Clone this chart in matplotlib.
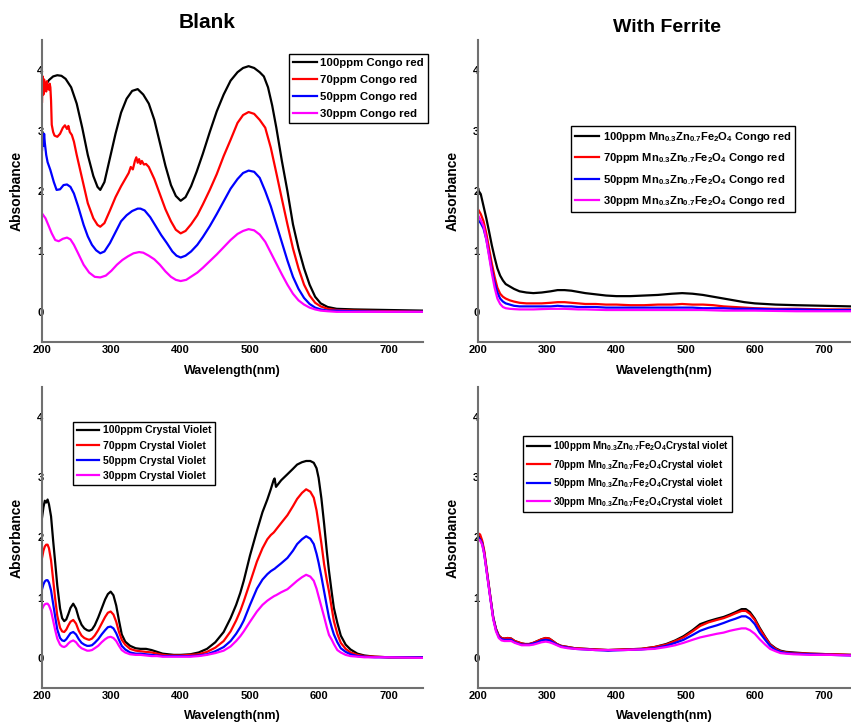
import matplotlib
matplotlib.use("Agg")
import matplotlib.pyplot as plt

plt.rcParams['font.family'] = ['Liberation Sans', 'DejaVu Sans']
plt.rcParams['font.weight'] = 'bold'
plt.rcParams['mathtext.fontset'] = 'custom'
plt.rcParams['mathtext.rm'] = 'Liberation Sans:bold'
plt.rcParams['mathtext.bf'] = 'Liberation Sans:bold'
plt.rcParams['mathtext.it'] = 'Liberation Sans:bold'
plt.rcParams['mathtext.default'] = 'bf'

colors = ['black', 'red', 'blue', 'magenta']

# ---------------- Congo red, blank ----------------
cr_wl_black = [200, 205, 210, 216, 222, 228, 234, 242, 250, 258, 266, 274, 280, 284, 290, 298, 306, 314, 322, 330,
               338, 346, 354, 362, 370, 378, 386, 393, 400, 407, 415, 423, 432, 442, 452, 462, 472, 482, 490, 498,
               506, 514, 520, 526, 532, 538, 546, 554, 562, 570, 578, 586, 594, 602, 612, 625, 650, 700, 750]
cr_black = [3.59, 3.75, 3.84, 3.9, 3.92, 3.91, 3.86, 3.72, 3.45, 3.05, 2.6, 2.25, 2.07, 2.02, 2.15, 2.55, 2.95, 3.3,
            3.53, 3.66, 3.69, 3.6, 3.45, 3.18, 2.8, 2.42, 2.1, 1.92, 1.84, 1.9, 2.08, 2.32, 2.62, 2.98, 3.32, 3.6,
            3.83, 3.97, 4.04, 4.07, 4.04, 3.97, 3.9, 3.72, 3.42, 3.05, 2.5, 2.0, 1.45, 1.05, 0.72, 0.45, 0.25, 0.14,
            0.08, 0.05, 0.04, 0.03, 0.02]

cr_wl_red = [200, 201, 202, 203, 204, 205, 206, 207, 208, 209, 210, 211, 212, 213, 214, 216, 218, 222, 226, 230,
             233, 236, 238, 240, 243, 246, 250, 258, 266, 274, 280, 284, 290, 298, 306, 314, 320, 325, 328, 331,
             334, 336, 338, 340, 342, 344, 347, 350, 354, 362, 370, 378, 386, 393, 400, 407, 415, 424, 432, 442,
             452, 462, 472, 482, 490, 498, 506, 514, 522, 530, 538, 546, 554, 562, 570, 578, 586, 594, 602, 612,
             625, 650, 700, 750]
cr_red = [3.48, 3.9, 3.6, 3.85, 3.7, 3.78, 3.65, 3.82, 3.7, 3.75, 3.68, 3.78, 3.72, 3.5, 3.1, 2.98, 2.92, 2.9, 2.95,
          3.05, 3.09, 3.03, 3.08, 2.98, 2.93, 2.82, 2.6, 2.2, 1.8, 1.55, 1.44, 1.41, 1.47, 1.68, 1.9, 2.08, 2.2, 2.3,
          2.4, 2.36, 2.5, 2.56, 2.47, 2.53, 2.45, 2.5, 2.44, 2.45, 2.4, 2.2, 1.95, 1.7, 1.5, 1.36, 1.30, 1.34, 1.45,
          1.6, 1.78, 2.02, 2.28, 2.58, 2.85, 3.13, 3.26, 3.31, 3.28, 3.18, 3.05, 2.72, 2.3, 1.87, 1.45, 1.05, 0.72,
          0.45, 0.27, 0.15, 0.09, 0.05, 0.03, 0.02, 0.01, 0.0]

cr_wl_blue = [200, 201, 202, 203, 204, 206, 208, 212, 217, 221, 226, 231, 236, 241, 246, 252, 260, 266, 272, 278,
              284, 290, 298, 306, 314, 322, 330, 338, 342, 348, 356, 364, 372, 380, 388, 394, 400, 407, 415, 424,
              432, 442, 452, 462, 472, 482, 490, 498, 506, 514, 522, 530, 538, 546, 554, 562, 570, 578, 586, 594,
              602, 612, 625, 650, 700, 750]
cr_blue = [2.68, 2.9, 2.75, 2.95, 2.8, 2.6, 2.48, 2.35, 2.15, 2.02, 2.03, 2.1, 2.11, 2.07, 1.96, 1.75, 1.44, 1.25,
           1.11, 1.02, 0.97, 1.0, 1.14, 1.32, 1.5, 1.6, 1.67, 1.71, 1.71, 1.68, 1.57, 1.42, 1.27, 1.14, 1.0, 0.93,
           0.90, 0.93, 1.0, 1.11, 1.24, 1.42, 1.62, 1.83, 2.04, 2.2, 2.3, 2.34, 2.32, 2.22, 2.0, 1.75, 1.45, 1.15,
           0.85, 0.58, 0.38, 0.23, 0.13, 0.07, 0.04, 0.02, 0.02, 0.01, 0.0, 0.0]

cr_wl_mag = [200, 205, 209, 214, 219, 224, 230, 236, 241, 246, 252, 260, 268, 276, 284, 292, 300, 308, 316, 324,
             332, 340, 346, 354, 362, 370, 378, 386, 393, 400, 408, 416, 424, 432, 442, 452, 462, 472, 482, 490,
             498, 506, 514, 522, 530, 538, 546, 554, 562, 570, 578, 586, 594, 602, 612, 625, 650, 700, 750]
cr_mag = [1.63, 1.55, 1.44, 1.3, 1.19, 1.17, 1.21, 1.23, 1.2, 1.11, 0.97, 0.78, 0.65, 0.58, 0.57, 0.6, 0.68, 0.78,
          0.86, 0.92, 0.97, 0.99, 0.98, 0.93, 0.87, 0.78, 0.67, 0.58, 0.53, 0.51, 0.53, 0.59, 0.65, 0.73, 0.84, 0.95,
          1.07, 1.19, 1.29, 1.34, 1.37, 1.35, 1.28, 1.16, 0.98, 0.8, 0.62, 0.45, 0.3, 0.19, 0.12, 0.07, 0.04, 0.02,
          0.01, 0.0, 0.0, 0.0, 0.0]

cr_labels = ['100ppm Congo red', '70ppm Congo red', '50ppm Congo red', '30ppm Congo red']

# ---------------- Congo red, with ferrite ----------------
crf_wl = [200, 204, 208, 212, 216, 220, 224, 228, 232, 236, 240, 246, 252, 260, 270, 280, 292, 305, 315, 325, 335,
          345, 355, 370, 385, 400, 420, 440, 460, 480, 495, 510, 525, 540, 555, 570, 585, 600, 630, 660, 700, 739]
crf_black = [2.02, 1.95, 1.75, 1.55, 1.33, 1.1, 0.9, 0.72, 0.6, 0.52, 0.46, 0.42, 0.38, 0.34, 0.32, 0.31, 0.32, 0.34,
             0.36, 0.36, 0.35, 0.33, 0.31, 0.29, 0.27, 0.26, 0.26, 0.27, 0.28, 0.30, 0.31, 0.30, 0.28, 0.25, 0.22,
             0.19, 0.16, 0.14, 0.12, 0.11, 0.10, 0.09]
crf_red = [1.70, 1.62, 1.5, 1.3, 1.05, 0.8, 0.58, 0.4, 0.3, 0.25, 0.22, 0.19, 0.17, 0.15, 0.14, 0.14, 0.14, 0.15,
           0.16, 0.16, 0.15, 0.14, 0.13, 0.13, 0.12, 0.12, 0.11, 0.11, 0.12, 0.12, 0.13, 0.12, 0.12, 0.11, 0.09,
           0.08, 0.07, 0.06, 0.05, 0.05, 0.04, 0.04]
crf_blue = [1.52, 1.47, 1.38, 1.2, 0.95, 0.69, 0.48, 0.32, 0.22, 0.17, 0.14, 0.12, 0.1, 0.09, 0.09, 0.09, 0.09, 0.09,
            0.1, 0.09, 0.09, 0.08, 0.08, 0.08, 0.07, 0.07, 0.07, 0.07, 0.07, 0.07, 0.07, 0.07, 0.06, 0.06, 0.06,
            0.05, 0.05, 0.05, 0.04, 0.04, 0.03, 0.03]
crf_mag = [1.60, 1.52, 1.42, 1.2, 0.92, 0.64, 0.4, 0.22, 0.13, 0.08, 0.06, 0.05, 0.045, 0.04, 0.04, 0.04, 0.045,
           0.05, 0.05, 0.05, 0.045, 0.04, 0.04, 0.035, 0.03, 0.03, 0.03, 0.03, 0.03, 0.03, 0.03, 0.03, 0.03, 0.025,
           0.02, 0.02, 0.02, 0.02, 0.015, 0.01, 0.01, 0.01]

crf_labels = [r'100ppm Mn$_{0.3}$Zn$_{0.7}$Fe$_2$O$_4$ Congo red',
              r'70ppm Mn$_{0.3}$Zn$_{0.7}$Fe$_2$O$_4$ Congo red',
              r'50ppm Mn$_{0.3}$Zn$_{0.7}$Fe$_2$O$_4$ Congo red',
              r'30ppm Mn$_{0.3}$Zn$_{0.7}$Fe$_2$O$_4$ Congo red']

# ---------------- Crystal violet, blank ----------------
cv_wl = [200, 202, 204, 206, 208, 210, 213, 216, 219, 222, 226, 229, 232, 235, 238, 241, 245, 249, 253, 257, 261,
         265, 268, 272, 276, 281, 286, 291, 295, 299, 303, 307, 311, 315, 320, 327, 335, 342, 350, 358, 366, 374,
         382, 390, 400, 414, 426, 438, 450, 462, 472, 480, 486, 491, 500, 510, 518, 525, 530, 534, 535.5, 537.5,
         545, 554, 562, 568, 575, 581, 587, 592, 596, 599, 603, 607, 611, 614, 618, 621, 626, 631, 638, 645, 655,
         665, 680, 700, 750]
cv_black = [2.33, 2.5, 2.61, 2.58, 2.63, 2.55, 2.35, 1.95, 1.58, 1.2, 0.82, 0.66, 0.61, 0.64, 0.73, 0.83, 0.90, 0.82,
            0.66, 0.55, 0.49, 0.46, 0.45, 0.47, 0.54, 0.67, 0.82, 0.97, 1.06, 1.10, 1.04, 0.87, 0.62, 0.39, 0.27,
            0.2, 0.16, 0.15, 0.15, 0.13, 0.1, 0.07, 0.06, 0.05, 0.05, 0.06, 0.09, 0.15, 0.26, 0.43, 0.66, 0.88,
            1.08, 1.28, 1.7, 2.11, 2.42, 2.63, 2.8, 2.95, 2.98, 2.84, 2.95, 3.05, 3.14, 3.21, 3.25, 3.27, 3.27,
            3.24, 3.15, 2.99, 2.65, 2.22, 1.75, 1.44, 1.08, 0.83, 0.58, 0.37, 0.22, 0.14, 0.07, 0.04, 0.02, 0.01,
            0.01]
cv_red = [1.66, 1.78, 1.85, 1.88, 1.88, 1.82, 1.62, 1.3, 0.98, 0.7, 0.5, 0.44, 0.43, 0.47, 0.54, 0.6, 0.63, 0.57,
          0.45, 0.37, 0.33, 0.31, 0.30, 0.32, 0.37, 0.46, 0.57, 0.68, 0.75, 0.77, 0.72, 0.6, 0.43, 0.3, 0.22, 0.15,
          0.12, 0.11, 0.1, 0.09, 0.07, 0.05, 0.04, 0.04, 0.04, 0.05, 0.06, 0.1, 0.17, 0.28, 0.44, 0.62, 0.78, 0.94,
          1.25, 1.6, 1.82, 1.97, 2.04, 2.08, 2.1, 2.13, 2.24, 2.37, 2.52, 2.64, 2.74, 2.8, 2.76, 2.66, 2.45, 2.22,
          1.9, 1.55, 1.28, 1.1, 0.82, 0.61, 0.4, 0.25, 0.15, 0.09, 0.05, 0.03, 0.02, 0.01, 0.01]
cv_blue = [1.14, 1.22, 1.27, 1.29, 1.29, 1.25, 1.12, 0.9, 0.68, 0.47, 0.33, 0.29, 0.28, 0.31, 0.36, 0.41, 0.43, 0.39,
           0.31, 0.25, 0.22, 0.2, 0.2, 0.21, 0.25, 0.31, 0.39, 0.46, 0.51, 0.52, 0.49, 0.41, 0.3, 0.2, 0.14, 0.09,
           0.07, 0.07, 0.06, 0.05, 0.04, 0.03, 0.03, 0.03, 0.03, 0.03, 0.04, 0.06, 0.11, 0.18, 0.28, 0.4, 0.51, 0.62,
           0.88, 1.15, 1.3, 1.39, 1.44, 1.47, 1.48, 1.5, 1.57, 1.66, 1.78, 1.89, 1.97, 2.02, 1.98, 1.89, 1.73, 1.58,
           1.35, 1.1, 0.85, 0.67, 0.5, 0.39, 0.26, 0.16, 0.1, 0.06, 0.03, 0.02, 0.01, 0.01, 0.01]
cv_mag = [0.81, 0.86, 0.89, 0.9, 0.9, 0.87, 0.78, 0.62, 0.46, 0.32, 0.22, 0.19, 0.18, 0.2, 0.24, 0.27, 0.29, 0.26,
          0.2, 0.16, 0.14, 0.12, 0.12, 0.13, 0.16, 0.2, 0.26, 0.31, 0.34, 0.35, 0.33, 0.28, 0.2, 0.13, 0.09, 0.06,
          0.05, 0.05, 0.04, 0.03, 0.03, 0.02, 0.02, 0.02, 0.02, 0.02, 0.03, 0.05, 0.08, 0.12, 0.19, 0.28, 0.36, 0.44,
          0.6, 0.77, 0.88, 0.95, 0.99, 1.02, 1.03, 1.04, 1.09, 1.14, 1.22, 1.28, 1.34, 1.38, 1.35, 1.28, 1.15, 1.02,
          0.85, 0.68, 0.5, 0.38, 0.3, 0.23, 0.13, 0.09, 0.05, 0.03, 0.02, 0.01, 0.01, 0.01, 0.0]

cv_labels = ['100ppm Crystal Violet', '70ppm Crystal Violet', '50ppm Crystal Violet', '30ppm Crystal Violet']

# ---------------- Crystal violet, with ferrite ----------------
cvf_wl = [200, 203, 206, 209, 212, 215, 218, 222, 226, 230, 234, 238, 243, 248, 253, 258, 263, 268, 274, 280, 286,
          292, 298, 303, 308, 314, 320, 330, 340, 355, 370, 388, 410, 436, 455, 472, 485, 497, 510, 521, 533, 545,
          555, 564, 572, 581, 587, 593, 600, 607, 615, 622, 630, 637, 645, 656, 680, 710, 739]
cvf_black = [2.02, 2.0, 1.92, 1.75, 1.5, 1.25, 1.0, 0.67, 0.48, 0.37, 0.33, 0.32, 0.33, 0.32, 0.28, 0.26, 0.24, 0.23,
             0.23, 0.25, 0.28, 0.31, 0.33, 0.32, 0.28, 0.23, 0.2, 0.18, 0.16, 0.15, 0.14, 0.13, 0.14, 0.15, 0.18,
             0.23, 0.29, 0.36, 0.46, 0.56, 0.61, 0.65, 0.68, 0.72, 0.76, 0.81, 0.81, 0.76, 0.65, 0.5, 0.35, 0.23,
             0.16, 0.12, 0.1, 0.09, 0.07, 0.06, 0.05]
cvf_red = [2.07, 2.05, 1.95, 1.78, 1.52, 1.26, 1.0, 0.67, 0.48, 0.37, 0.33, 0.32, 0.33, 0.32, 0.28, 0.26, 0.24, 0.23,
           0.23, 0.25, 0.28, 0.31, 0.33, 0.32, 0.28, 0.23, 0.2, 0.18, 0.16, 0.15, 0.14, 0.13, 0.14, 0.15, 0.18, 0.22,
           0.28, 0.34, 0.44, 0.53, 0.59, 0.63, 0.66, 0.7, 0.74, 0.78, 0.78, 0.73, 0.63, 0.48, 0.34, 0.22, 0.15, 0.11,
           0.09, 0.08, 0.07, 0.06, 0.05]
cvf_blue = [2.0, 1.97, 1.9, 1.73, 1.48, 1.23, 0.98, 0.66, 0.46, 0.35, 0.31, 0.3, 0.3, 0.3, 0.26, 0.24, 0.22, 0.22,
            0.22, 0.24, 0.26, 0.29, 0.3, 0.29, 0.26, 0.22, 0.19, 0.17, 0.15, 0.14, 0.13, 0.12, 0.13, 0.14, 0.16, 0.2,
            0.25, 0.3, 0.38, 0.45, 0.5, 0.54, 0.58, 0.62, 0.65, 0.69, 0.69, 0.65, 0.56, 0.42, 0.3, 0.2, 0.13, 0.1,
            0.08, 0.07, 0.06, 0.05, 0.04]
cvf_mag = [1.97, 1.95, 1.88, 1.72, 1.47, 1.22, 0.97, 0.64, 0.44, 0.33, 0.29, 0.28, 0.28, 0.28, 0.25, 0.23, 0.21, 0.21,
           0.21, 0.22, 0.24, 0.26, 0.27, 0.26, 0.24, 0.21, 0.18, 0.16, 0.15, 0.14, 0.13, 0.13, 0.13, 0.14, 0.15, 0.18,
           0.21, 0.25, 0.3, 0.34, 0.37, 0.4, 0.42, 0.45, 0.47, 0.49, 0.49, 0.46, 0.4, 0.31, 0.22, 0.15, 0.11, 0.08,
           0.07, 0.06, 0.05, 0.05, 0.04]

cvf_labels = [r'100ppm Mn$_{0.3}$Zn$_{0.7}$Fe$_2$O$_4$Crystal violet',
              r'70ppm Mn$_{0.3}$Zn$_{0.7}$Fe$_2$O$_4$Crystal violet',
              r'50ppm Mn$_{0.3}$Zn$_{0.7}$Fe$_2$O$_4$Crystal violet',
              r'30ppm Mn$_{0.3}$Zn$_{0.7}$Fe$_2$O$_4$Crystal violet']

yticks = [0, 1, 2, 3, 4]
xticks = [200, 300, 400, 500, 600, 700]

fig = plt.figure(figsize=(8.51, 7.22), dpi=100)


def setup(ax, xmax):
    ax.set_xlim(200, xmax)
    ax.set_ylim(-0.5, 4.5)
    ax.set_xticks(xticks)
    ax.set_yticks(yticks)
    ax.spines['top'].set_visible(False)
    ax.spines['right'].set_visible(False)
    for s in ['left', 'bottom']:
        ax.spines[s].set_color('#707070')
        ax.spines[s].set_linewidth(1.5)
    ax.tick_params(axis='both', length=0, labelsize=8)
    ax.tick_params(axis='x', pad=2)
    ax.tick_params(axis='y', pad=-1)
    for lab in ax.get_xticklabels() + ax.get_yticklabels():
        lab.set_fontweight('bold')
    ax.set_xlabel('Wavelength(nm)', fontsize=9, fontweight='bold', labelpad=7)
    ax.set_ylabel('Absorbance', fontsize=10, fontweight='bold', labelpad=10)


def add_legend(ax, labels, anchor, size, gap, hlen):
    leg = ax.legend(labels, loc='upper left', bbox_to_anchor=anchor, fontsize=size, frameon=True,
                    fancybox=False, edgecolor='black', framealpha=1, borderaxespad=0, handlelength=hlen,
                    handletextpad=0.3, labelspacing=gap, borderpad=0.35)
    leg.get_frame().set_linewidth(1.0)


# top left
ax1 = fig.add_axes([0.0494, 0.5263, 0.448, 0.418])
ax1.plot(cr_wl_black, cr_black, color=colors[0], lw=1.6)
ax1.plot(cr_wl_red, cr_red, color=colors[1], lw=1.6)
ax1.plot(cr_wl_blue, cr_blue, color=colors[2], lw=1.6)
ax1.plot(cr_wl_mag, cr_mag, color=colors[3], lw=1.6)
setup(ax1, 750)
add_legend(ax1, cr_labels, (0.648, 0.954), 8.2, 0.6, 2.1)

# top right
ax2 = fig.add_axes([0.5617, 0.5263, 0.4383, 0.418])
for vals, c in zip([crf_black, crf_red, crf_blue, crf_mag], colors):
    ax2.plot(crf_wl, vals, color=c, lw=1.6)
setup(ax2, 739)
add_legend(ax2, crf_labels, (0.249, 0.715), 8, 0.65, 2.2)

# bottom left
ax3 = fig.add_axes([0.0494, 0.0471, 0.448, 0.417])
for vals, c in zip([cv_black, cv_red, cv_blue, cv_mag], colors):
    ax3.plot(cv_wl, vals, color=c, lw=1.6)
setup(ax3, 750)
add_legend(ax3, cv_labels, (0.081, 0.884), 7.5, 0.5, 2.2)

# bottom right
ax4 = fig.add_axes([0.5617, 0.0471, 0.4383, 0.417])
for vals, c in zip([cvf_black, cvf_red, cvf_blue, cvf_mag], colors):
    ax4.plot(cvf_wl, vals, color=c, lw=1.6)
setup(ax4, 739)
add_legend(ax4, cvf_labels, (0.121, 0.837), 7, 0.45, 2.4)

fig.text(207 / 851, 1 - 22 / 722, 'Blank', ha='center', va='center', fontsize=15, fontweight='bold')
fig.text(667 / 851, 1 - 28 / 722, 'With Ferrite', ha='center', va='center', fontsize=14, fontweight='bold')

fig.savefig('out.png', dpi=100)
